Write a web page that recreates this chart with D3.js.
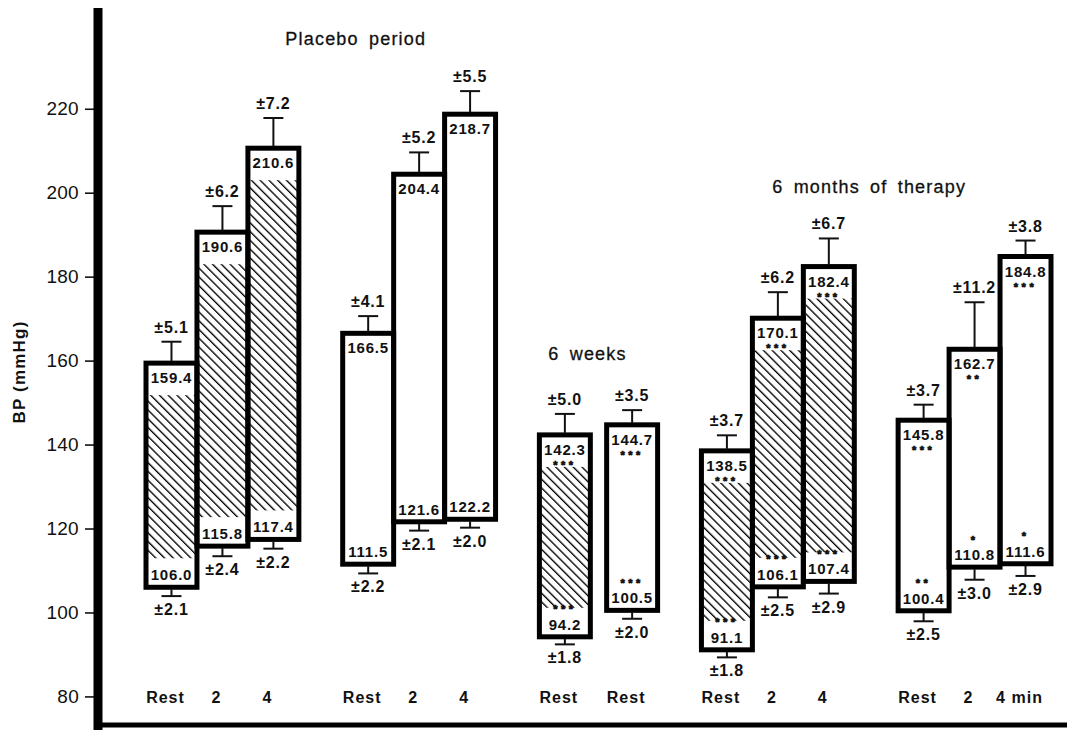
<!DOCTYPE html>
<html>
<head>
<meta charset="utf-8">
<script src="https://cdn.jsdelivr.net/npm/d3@7"></script>
<style>
  body { margin: 0; background: #fff; }
  svg { display: block; font-family: "Liberation Sans", Arial, sans-serif; }
</style>
</head>
<body>
<svg width="1067" height="730"></svg>
<script>
// values
var periods = ["Placebo period", "6 weeks", "6 months of therapy"];
var barPeriod = [0, 0, 0, 0, 0, 0, 1, 1, 2, 2, 2, 2, 2, 2];
var barSet = ["hatched", "hatched", "hatched", "open", "open", "open", "hatched", "open",
              "hatched", "hatched", "hatched", "open", "open", "open"];
var barLabel = ["Rest", "2", "4", "Rest", "2", "4", "Rest", "Rest", "Rest", "2", "4", "Rest", "2", "4 min"];
var systolic = [159.4, 190.6, 210.6, 166.5, 204.4, 218.7, 142.3, 144.7, 138.5, 170.1, 182.4, 145.8, 162.7, 184.8];
var systolicSE = [5.1, 6.2, 7.2, 4.1, 5.2, 5.5, 5.0, 3.5, 3.7, 6.2, 6.7, 3.7, 11.2, 3.8];
var diastolic = [106.0, 115.8, 117.4, 111.5, 121.6, 122.2, 94.2, 100.5, 91.1, 106.1, 107.4, 100.4, 110.8, 111.6];
var diastolicSE = [2.1, 2.4, 2.2, 2.2, 2.1, 2.0, 1.8, 2.0, 1.8, 2.5, 2.9, 2.5, 3.0, 2.9];
var sysStars = ["", "", "", "", "", "", "***", "***", "***", "***", "***", "***", "**", "***"];
var diaStars = ["", "", "", "", "", "", "***", "***", "***", "***", "***", "**", "*", "*"];
var yTicks = [80, 100, 120, 140, 160, 180, 200, 220];

var drawChart = function () {
    let svg = d3.select("svg");

    let data = systolic.map(function (s, i) {
        return {
            i: i, period: barPeriod[i], set: barSet[i], label: barLabel[i],
            sys: s, sysSE: systolicSE[i], dia: diastolic[i], diaSE: diastolicSE[i],
            sysStars: sysStars[i], diaStars: diaStars[i],
            cluster: barPeriod[i] + "-" + barSet[i]
        };
    });

    // bars in a cluster touch; clusters are separated by a gap
    let clusterSize = d3.rollup(data, function (v) { return v.length; }, function (d) { return d.cluster; });
    let u = 0;
    data.forEach(function (d, i) {
        if (i > 0 && d.cluster !== data[i - 1].cluster) {
            let p = data[i - 1];
            let small = p.period === d.period && clusterSize.get(p.cluster) === 1 && clusterSize.get(d.cluster) === 1;
            u += small ? 0.32 : 0.86;
        }
        d.u = u;
        u += 1;
    });

    let xScale = d3.scaleLinear().domain([0, u]).range([146, 1051]);
    let bw = xScale(1) - xScale(0);
    let yScale = d3.scaleLinear().domain([72, 244]).range([730, 8]);

    let defs = svg.append("defs");
    defs.append("pattern")
        .attr("id", "hatch")
        .attr("patternUnits", "userSpaceOnUse")
        .attr("width", 6.2)
        .attr("height", 6.2)
        .attr("patternTransform", "rotate(-45)")
        .append("line")
        .attr("x1", 0).attr("y1", -1)
        .attr("x2", 0).attr("y2", 7.2)
        .attr("stroke", "#000")
        .attr("stroke-width", 2.7);

    // axes
    let yAxis = d3.axisLeft(yScale).tickValues(yTicks).tickSize(9).tickPadding(6);
    let yGroup = svg.append("g").attr("id", "y-axis").attr("transform", "translate(94,0)");
    yGroup.call(yAxis);
    yGroup.select(".domain").remove();
    yGroup.selectAll(".tick line").attr("stroke", "#111").attr("stroke-width", 1.6);
    yGroup.selectAll(".tick text")
        .attr("font-size", 19)
        .attr("font-family", "Liberation Sans, Arial, sans-serif")
        .attr("fill", "#111")
        .attr("letter-spacing", 0.3);

    svg.append("line")
        .attr("x1", 98).attr("x2", 98)
        .attr("y1", yScale.range()[1]).attr("y2", yScale.range()[0])
        .attr("stroke", "#000").attr("stroke-width", 9);
    svg.append("line")
        .attr("x1", 94).attr("x2", 1067)
        .attr("y1", 725).attr("y2", 725)
        .attr("stroke", "#000").attr("stroke-width", 5);

    svg.append("text")
        .attr("transform", "translate(25," + 372 + ")rotate(-90)")
        .attr("text-anchor", "middle")
        .attr("font-size", 17)
        .attr("font-weight", "bold")
        .attr("letter-spacing", 1.2)
        .attr("fill", "#111")
        .text("BP (mmHg)");

    // period titles
    let titleLayout = [{ dx: 35, v: 235.3 }, { dx: -11, v: 160.1 }, { dx: -7, v: 200 }];
    svg.selectAll("text.period")
        .data(periods)
        .enter()
        .append("text")
        .attr("class", "period")
        .attr("x", function (p, k) {
            let bars = data.filter(function (d) { return d.period === k; });
            let lo = xScale(d3.min(bars, function (d) { return d.u; }));
            let hi = xScale(d3.max(bars, function (d) { return d.u + 1; }));
            return (lo + hi) / 2 + titleLayout[k].dx;
        })
        .attr("y", function (p, k) { return yScale(titleLayout[k].v); })
        .attr("text-anchor", "middle")
        .attr("font-size", 18)
        .attr("letter-spacing", 1.2)
        .attr("word-spacing", 4)
        .attr("stroke", "#111")
        .attr("stroke-width", 0.3)
        .attr("fill", "#111")
        .text(function (p) { return p; });

    let plot = svg.append("g").attr("id", "plot");

    // bar bodies
    plot.selectAll("rect.body")
        .data(data)
        .enter()
        .append("rect")
        .attr("class", "body")
        .attr("x", function (d) { return xScale(d.u); })
        .attr("y", function (d) { return yScale(d.sys); })
        .attr("width", bw)
        .attr("height", function (d) { return yScale(d.dia) - yScale(d.sys); })
        .attr("fill", "#fff");

    plot.selectAll("rect.hatch")
        .data(data.filter(function (d) { return d.set === "hatched"; }))
        .enter()
        .append("rect")
        .attr("class", "hatch")
        .attr("x", function (d) { return xScale(d.u) + 2; })
        .attr("y", function (d) { return yScale(d.sys) + 32; })
        .attr("width", bw - 4)
        .attr("height", function (d) { return yScale(d.dia) - yScale(d.sys) - 61; })
        .attr("fill", "url(#hatch)");

    plot.selectAll("rect.outline")
        .data(data)
        .enter()
        .append("rect")
        .attr("class", "outline")
        .attr("x", function (d) { return xScale(d.u); })
        .attr("y", function (d) { return yScale(d.sys); })
        .attr("width", bw)
        .attr("height", function (d) { return yScale(d.dia) - yScale(d.sys); })
        .attr("fill", "none")
        .attr("stroke", "#000")
        .attr("stroke-width", 5);

    // error bars
    let cx = function (d) { return xScale(d.u + 0.5); };
    let err = plot.selectAll("g.err")
        .data(data)
        .enter()
        .append("g")
        .attr("class", "err")
        .attr("stroke", "#111")
        .attr("stroke-width", 2);
    err.append("line")
        .attr("x1", cx).attr("x2", cx)
        .attr("y1", function (d) { return yScale(d.sys) - 2; })
        .attr("y2", function (d) { return yScale(d.sys + d.sysSE); });
    err.append("line")
        .attr("x1", function (d) { return cx(d) - 10; })
        .attr("x2", function (d) { return cx(d) + 10; })
        .attr("y1", function (d) { return yScale(d.sys + d.sysSE); })
        .attr("y2", function (d) { return yScale(d.sys + d.sysSE); });
    err.append("line")
        .attr("x1", cx).attr("x2", cx)
        .attr("y1", function (d) { return yScale(d.dia) + 2; })
        .attr("y2", function (d) { return yScale(d.dia - d.diaSE); });
    err.append("line")
        .attr("x1", function (d) { return cx(d) - 10; })
        .attr("x2", function (d) { return cx(d) + 10; })
        .attr("y1", function (d) { return yScale(d.dia - d.diaSE); })
        .attr("y2", function (d) { return yScale(d.dia - d.diaSE); });

    let addText = function (cls, yFn, textFn, size, spacing, rows) {
        return plot.selectAll("text." + cls)
            .data(rows || data)
            .enter()
            .append("text")
            .attr("class", cls)
            .attr("x", cx)
            .attr("y", yFn)
            .attr("text-anchor", "middle")
            .attr("font-size", size)
            .attr("font-weight", "bold")
            .attr("letter-spacing", spacing)
            .attr("fill", "#111")
            .text(textFn);
    };

    addText("sysSE", function (d) { return yScale(d.sys + d.sysSE) - 9; },
        function (d) { return "\u00b1" + d.sysSE.toFixed(1); }, 16, 0.8);
    addText("diaSE", function (d) { return yScale(d.dia - d.diaSE) + 19; },
        function (d) { return "\u00b1" + d.diaSE.toFixed(1); }, 16, 0.8);

    // value labels inside the bars, stars for significance
    addText("sysVal", function (d) { return yScale(d.sys) + 20; },
        function (d) { return d.sys.toFixed(1); }, 15, 0.8);
    addText("diaVal", function (d) { return yScale(d.dia) - 7; },
        function (d) { return d.dia.toFixed(1); }, 15, 0.8);
    addText("sysStar", function (d) { return yScale(d.sys) + 34; },
        function (d) { return d.sysStars; }, 11, 3.5,
        data.filter(function (d) { return d.sysStars; }))
        .attr("stroke", "#111").attr("stroke-width", 0.7);
    addText("diaStar", function (d) { return yScale(d.dia) - 23.5; },
        function (d) { return d.diaStars; }, 11, 3.5,
        data.filter(function (d) { return d.diaStars; }))
        .attr("stroke", "#111").attr("stroke-width", 0.7);

    // category labels along the bottom
    addText("cat", function () { return yScale(80) + 7; },
        function (d) { return d.label; }, 16, 1)
        .attr("x", function (d) { return cx(d) - 6; });
};

drawChart();
</script>
</body>
</html>
